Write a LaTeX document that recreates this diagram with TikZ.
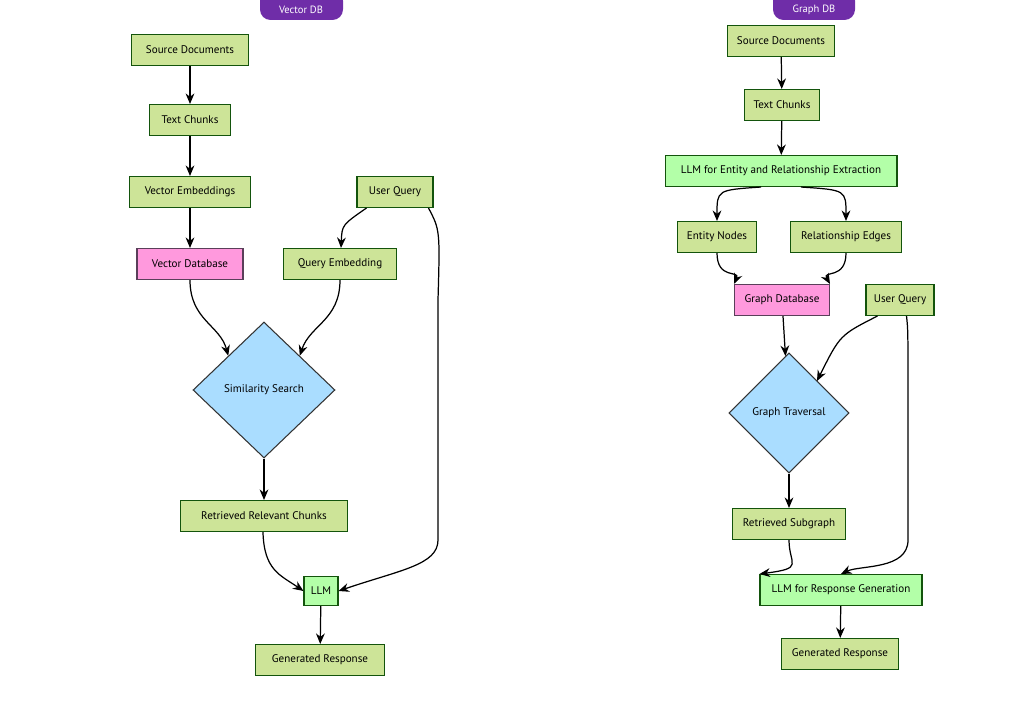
\documentclass[tikz,border=0pt]{standalone}
\usepackage{fontspec}
\setmainfont{PT Sans}
\usetikzlibrary{arrows.meta,shapes.geometric}
\definecolor{boxgreen}{HTML}{CDE498}
\definecolor{boxline}{HTML}{13540C}
\definecolor{llmgreen}{HTML}{B3FFA8}
\definecolor{dbpink}{HTML}{FF99DD}
\definecolor{dbline}{HTML}{5A3F5A}
\definecolor{searchblue}{HTML}{AADDFF}
\definecolor{tabpurple}{HTML}{6F2DA8}
\tikzset{
  box/.style={draw=boxline, fill=boxgreen, line width=0.6pt, minimum height=0.62cm, inner sep=2pt, font=\fontsize{6.3}{7}\selectfont},
  llm/.style={box, fill=llmgreen},
  db/.style={box, draw=dbline, fill=dbpink},
  search/.style={diamond, draw=black!80, fill=searchblue, line width=0.6pt, inner sep=0pt, font=\fontsize{6.3}{7}\selectfont},
  tab/.style={fill=tabpurple, text=white, rounded corners=5pt, font=\fontsize{6}{7}\selectfont},
  flow/.style={-{Stealth[length=6pt,width=5pt]}, line width=0.7pt},
}
\begin{document}
\begin{tikzpicture}[x=0.02cm, y=-0.02cm]
\useasboundingbox (0,0) rectangle (1024,713);
% tabs
\fill[tabpurple, rounded corners=6pt] (260,-10) rectangle (343,20);
\node[text=white, font=\fontsize{6}{7}\selectfont] (vtab) at (301,10) {Vector DB};
\fill[tabpurple, rounded corners=6pt] (773,-10) rectangle (855,20);
\node[text=white, font=\fontsize{6}{7}\selectfont] (gtab) at (814,10) {Graph DB};

% vector side
\node[box, minimum width=2.34cm] (vsrc) at (190,50) {Source Documents};
\node[box, minimum width=1.62cm] (vchunk) at (190,120) {Text Chunks};
\node[box, minimum width=2.42cm] (vemb) at (190,192) {Vector Embeddings};
\node[box, minimum width=1.52cm] (vquery) at (395,192) {User Query};
\node[db, minimum width=2.12cm] (vdb) at (190,264) {Vector Database};
\node[box, minimum width=2.26cm] (qemb) at (340,264) {Query Embedding};
\node[search, minimum width=2.84cm, minimum height=2.72cm] (sim) at (264,390) {Similarity Search};
\node[box, minimum width=3.34cm] (chunks) at (264,516) {Retrieved Relevant Chunks};
\node[llm, minimum width=0.68cm, minimum height=0.58cm] (vllm) at (321,591) {LLM};
\node[box, minimum width=2.58cm] (vresp) at (320,660) {Generated Response};

\draw[flow] (vsrc) -- (vchunk);
\draw[flow] (vchunk) -- (vemb);
\draw[flow] (vemb) -- (vdb);
\draw[flow] (vquery.south west) ++(10,0) .. controls (342,225) .. (341,248);
\draw[flow] (vdb) .. controls (190,320) and (220,325) .. (sim.north west);
\draw[flow] (qemb) .. controls (340,320) and (310,325) .. (sim.north east);
\draw[flow] (vquery.south east) ++(-5,0) .. controls (440,230) .. (438,300) -- (438,540) .. controls (438,565) and (400,570) .. (vllm.east);
\draw[flow] (sim) -- (chunks);
\draw[flow] (chunks.south west) ++(83,0) .. controls (264,570) and (280,575) .. (vllm.west);
\draw[flow] (vllm) -- (vresp);

% graph side
\node[box, minimum width=2.14cm] (gsrc) at (781,41) {Source Documents};
\node[box, minimum width=1.5cm] (gchunk) at (782,105) {Text Chunks};
\node[llm, minimum width=4.64cm] (extract) at (781,171) {LLM for Entity and Relationship Extraction};
\node[box, minimum width=1.58cm] (ent) at (717,237) {Entity Nodes};
\node[box, minimum width=2.22cm] (rel) at (846,237) {Relationship Edges};
\node[db, minimum width=1.9cm] (gdb) at (782,300) {Graph Database};
\node[box, minimum width=1.36cm] (gquery) at (900,300) {User Query};
\node[search, minimum width=2.4cm, minimum height=2.4cm] (trav) at (789,413) {Graph Traversal};
\node[box, minimum width=2.26cm] (sub) at (789,524) {Retrieved Subgraph};
\node[llm, minimum width=3.24cm] (gllm) at (841,590) {LLM for Response Generation};
\node[box, minimum width=2.34cm] (gresp) at (840,654) {Generated Response};

\draw[flow] (gsrc) -- (gchunk);
\draw[flow] (gchunk) -- (extract);
\draw[flow] (extract.south) ++(-20,0) .. controls (717,190) .. (717,221);
\draw[flow] (extract.south) ++(20,0) .. controls (846,190) .. (846,221);
\draw[flow] (ent) .. controls (717,280) and (740,270) .. (gdb.north west);
\draw[flow] (rel) .. controls (846,280) and (822,270) .. (gdb.north east);
\draw[flow] (gdb) -- (trav);
\draw[flow] (gquery.south west) ++(12,0) .. controls (840,335) .. (817,381);
\draw[flow] (gquery.south east) ++(-28,0) .. controls (908,330) .. (908,400) -- (908,540) .. controls (908,570) and (860,565) .. (gllm.north);
\draw[flow] (trav) -- (sub);
\draw[flow] (sub) .. controls (789,565) and (805,568) .. (gllm.north west);
\draw[flow] (gllm) -- (gresp);
\end{tikzpicture}
\end{document}
